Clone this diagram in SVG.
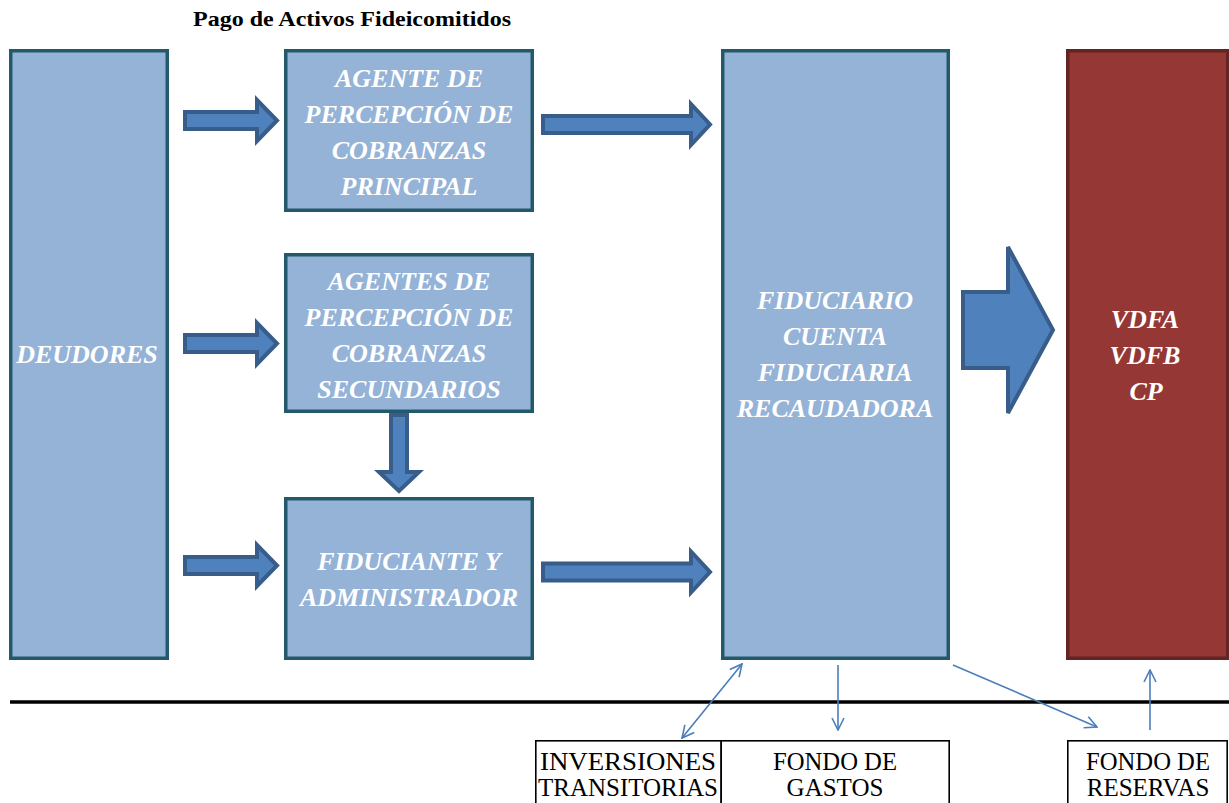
<svg xmlns="http://www.w3.org/2000/svg" width="1229" height="803" viewBox="0 0 1229 803">
<defs>
<style>
.box{fill:#95B3D7;stroke:#24596B;stroke-width:3.5}
.red{fill:#953735;stroke:#632523;stroke-width:3.5}
.bt{font-family:"Liberation Serif","Times New Roman",serif;font-weight:bold;font-style:italic;font-size:26px;fill:#FFFFFF;text-anchor:middle}
.blk{fill:#4F81BD;stroke:#385D8A;stroke-width:4;stroke-linejoin:miter}
.thin{fill:none;stroke:#4A7EBB;stroke-width:1.6}
.sb{fill:#FFFFFF;stroke:#000000;stroke-width:1.6}
.st{font-family:"Liberation Serif","Times New Roman",serif;font-size:25px;fill:#000000;text-anchor:middle}
</style>
<marker id="ah" viewBox="0 0 14 14" refX="13" refY="7" markerWidth="14" markerHeight="14" markerUnits="userSpaceOnUse" orient="auto-start-reverse">
<path d="M1,1 L13,7 L1,13" fill="none" stroke="#4A7EBB" stroke-width="1.6"/>
</marker>
</defs>
<rect width="1229" height="803" fill="#FFFFFF"/>
<text x="352" y="26" font-family="Liberation Serif,'Times New Roman',serif" font-weight="bold" font-size="21" text-anchor="middle" textLength="318" lengthAdjust="spacingAndGlyphs">Pago de Activos Fideicomitidos</text>

<g id="deudores">
<rect class="box" x="10.75" y="50.75" width="156.5" height="607.5"/>
<text class="bt" x="87" y="363">DEUDORES</text>
</g>
<g id="agente-principal">
<rect class="box" x="285.75" y="50.75" width="246.5" height="159.5"/>
<text class="bt" x="409" y="87">AGENTE DE</text>
<text class="bt" x="409" y="123">PERCEPCIÓN DE</text>
<text class="bt" x="409" y="159">COBRANZAS</text>
<text class="bt" x="409" y="195">PRINCIPAL</text>
</g>
<g id="agentes-secundarios">
<rect class="box" x="285.75" y="254.75" width="246.5" height="156.5"/>
<text class="bt" x="409" y="290">AGENTES DE</text>
<text class="bt" x="409" y="326">PERCEPCIÓN DE</text>
<text class="bt" x="409" y="362">COBRANZAS</text>
<text class="bt" x="409" y="398">SECUNDARIOS</text>
</g>
<g id="fiduciante">
<rect class="box" x="285.75" y="498.75" width="246.5" height="159.5"/>
<text class="bt" x="409" y="570">FIDUCIANTE Y</text>
<text class="bt" x="409" y="606">ADMINISTRADOR</text>
</g>
<g id="fiduciario">
<rect class="box" x="722.75" y="50.75" width="225.5" height="607.5"/>
<text class="bt" x="835" y="309">FIDUCIARIO</text>
<text class="bt" x="835" y="345">CUENTA</text>
<text class="bt" x="835" y="381">FIDUCIARIA</text>
<text class="bt" x="835" y="417">RECAUDADORA</text>
</g>
<g id="valores">
<rect class="red" x="1067.75" y="50.75" width="160" height="607.5"/>
<text class="bt" x="1145" y="328">VDFA</text>
<text class="bt" x="1145" y="364">VDFB</text>
<text class="bt" x="1146" y="400">CP</text>
</g>
<g id="inversiones">
<rect class="sb" x="535.8" y="740.8" width="185.4" height="70"/>
<text class="st" x="628" y="770" textLength="176" lengthAdjust="spacingAndGlyphs">INVERSIONES</text>
<text class="st" x="628" y="796" textLength="180" lengthAdjust="spacingAndGlyphs">TRANSITORIAS</text>
</g>
<g id="fondo-gastos">
<rect class="sb" x="721.2" y="740.8" width="228" height="70"/>
<text class="st" x="835" y="770" textLength="124" lengthAdjust="spacingAndGlyphs">FONDO DE</text>
<text class="st" x="835" y="796">GASTOS</text>
</g>
<g id="fondo-reservas">
<rect class="sb" x="1067.8" y="740.8" width="159.4" height="70"/>
<text class="st" x="1148" y="770" textLength="124" lengthAdjust="spacingAndGlyphs">FONDO DE</text>
<text class="st" x="1148" y="796">RESERVAS</text>
</g>

<g id="connectors">
<path class="blk" d="M185,112 H257 V100 L277,120.5 L257,141 V129 H185 Z"/>
<path class="blk" d="M185,335 H257 V323 L277,343.5 L257,364 V352 H185 Z"/>
<path class="blk" d="M185,557 H257 V545 L277,565.5 L257,586 V574 H185 Z"/>
<path class="blk" d="M543,116 H691 V104 L710,124.5 L691,145 V133 H543 Z"/>
<path class="blk" d="M543,563.5 H691 V551.5 L710,572 L691,592.5 V580.5 H543 Z"/>
<path class="blk" d="M391,415 H407 V472 H419 L399,491 L379,472 H391 Z"/>
<path class="blk" d="M963,292 H1008 V247 L1053,330 L1008,413 V368 H963 Z"/>
<line x1="10" y1="702" x2="1229" y2="702" stroke="#000000" stroke-width="3.5"/>
<line class="thin" x1="742" y1="664" x2="682" y2="738" marker-start="url(#ah)" marker-end="url(#ah)"/>
<line class="thin" x1="838" y1="665" x2="838" y2="730" marker-end="url(#ah)"/>
<line class="thin" x1="953" y1="665" x2="1097" y2="727" marker-end="url(#ah)"/>
<line class="thin" x1="1150" y1="730" x2="1150" y2="670" marker-end="url(#ah)"/>
</g>
</svg>
